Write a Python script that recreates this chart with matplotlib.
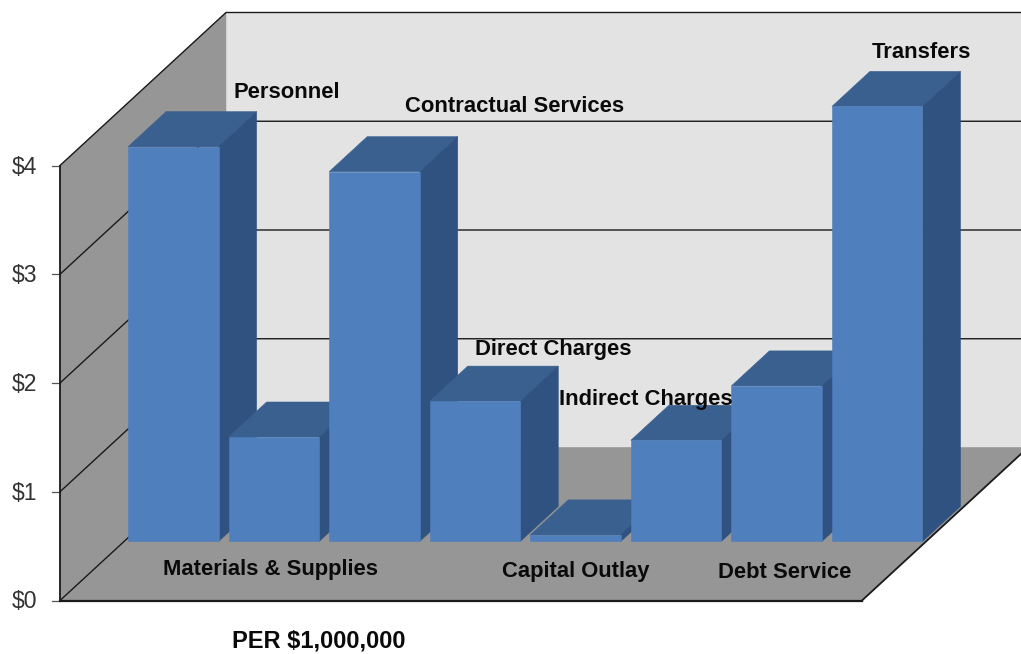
import matplotlib
matplotlib.use('Agg')
import matplotlib.pyplot as plt
from matplotlib.patches import Polygon

categories = ['Personnel', 'Materials & Supplies', 'Contractual Services', 'Direct Charges',
              'Capital Outlay', 'Indirect Charges', 'Debt Service', 'Transfers']
values = [3.63, 0.96, 3.40, 1.29, 0.06, 0.93, 1.43, 4.00]
tick_values = [0, 1, 2, 3, 4]
tick_labels = ['$0', '$1', '$2', '$3', '$4']

plt.rcParams['font.family'] = ['Liberation Sans', 'DejaVu Sans']

W, H = 1021, 654
fig = plt.figure(figsize=(W / 100, H / 100), dpi=100)
ax = fig.add_axes([0, 0, 1, 1])
ax.set_xlim(0, W)
ax.set_ylim(H, 0)
ax.axis('off')

# oblique projection of the box: x along the floor, value up, depth 0..1 into the page
X0, Y0 = 60, 600.5
UNIT = 108.75
DEPTH_X, DEPTH_Y = 166, -153
FLOOR_W = 802
TOP = 4


def pt(x, val, depth=0.0):
    return (X0 + x + depth * DEPTH_X, Y0 - val * UNIT + depth * DEPTH_Y)


def face(points, color, z):
    ax.add_patch(Polygon(points, closed=True, facecolor=color, edgecolor=color, linewidth=0.4, zorder=z))


# walls and floor
wall_grey = '#969696'
face([pt(0, 0, 1), pt(FLOOR_W, 0, 1), pt(FLOOR_W, TOP, 1), pt(0, TOP, 1)], '#e3e3e3', 1)
face([pt(0, 0, 0), pt(0, 0, 1), pt(0, TOP, 1), pt(0, TOP, 0)], wall_grey, 1)
face([pt(0, 0, 0), pt(FLOOR_W, 0, 0), pt(FLOOR_W, 0, 1), pt(0, 0, 1)], wall_grey, 1)

# gridlines wrap the side wall and the back wall
line = '#1a1a1a'
for t in tick_values:
    p = [pt(0, t, 0), pt(0, t, 1)]
    if t > 0:
        p.append(pt(FLOOR_W, t, 1))
    ax.plot(*zip(*p), color=line, lw=1.0, zorder=2, solid_joinstyle='miter')
    ax.plot([X0 - 8, X0], [Y0 - t * UNIT] * 2, color='#555555', lw=0.9, zorder=2)

ax.plot(*zip(pt(0, 0), pt(0, TOP)), color=line, lw=1.3, zorder=2)
ax.plot(*zip(pt(0, 0), pt(FLOOR_W, 0)), color=line, lw=1.6, zorder=2)
ax.plot(*zip(pt(FLOOR_W, 0), pt(FLOOR_W, 0, 1)), color=line, lw=1.3, zorder=2)

for t, lab in zip(tick_values, tick_labels):
    ax.text(X0 - 22.5, Y0 - t * UNIT + 1.5, lab, ha='right', va='center', fontsize=16.5, color='#333333', zorder=6)

# the bars, left to right so each one covers the side of the previous one
bar_start = 4
bar_step = 100.55
bar_w = 90.5
d_front = 0.386
d_back = 0.615
front_c, top_c, side_c = '#4f7fbd', '#3a6090', '#2f5280'
for i, v in enumerate(values):
    x1 = bar_start + i * bar_step
    x2 = x1 + bar_w
    z = 3 + i * 0.1
    face([pt(x1, v, d_front), pt(x2, v, d_front), pt(x2, v, d_back), pt(x1, v, d_back)], top_c, z)
    face([pt(x2, 0, d_front), pt(x2, 0, d_back), pt(x2, v, d_back), pt(x2, v, d_front)], side_c, z)
    face([pt(x1, 0, d_front), pt(x2, 0, d_front), pt(x2, v, d_front), pt(x1, v, d_front)], front_c, z)

# category labels sit by hand around the bars
label_pos = [(286.5, 93), (270, 569), (514.5, 106), (553, 349), (576, 571), (646, 399), (784.5, 573), (921.5, 52)]
for name, (lx, ly) in zip(categories, label_pos):
    ax.text(lx, ly, name, ha='center', va='center', fontsize=15.8, fontweight='bold', color='#0a0a0a', zorder=7)
ax.text(319, 641, 'PER $1,000,000', ha='center', va='center', fontsize=17, fontweight='bold',
        color='#0a0a0a', zorder=7)

fig.savefig('out.png', dpi=100)
